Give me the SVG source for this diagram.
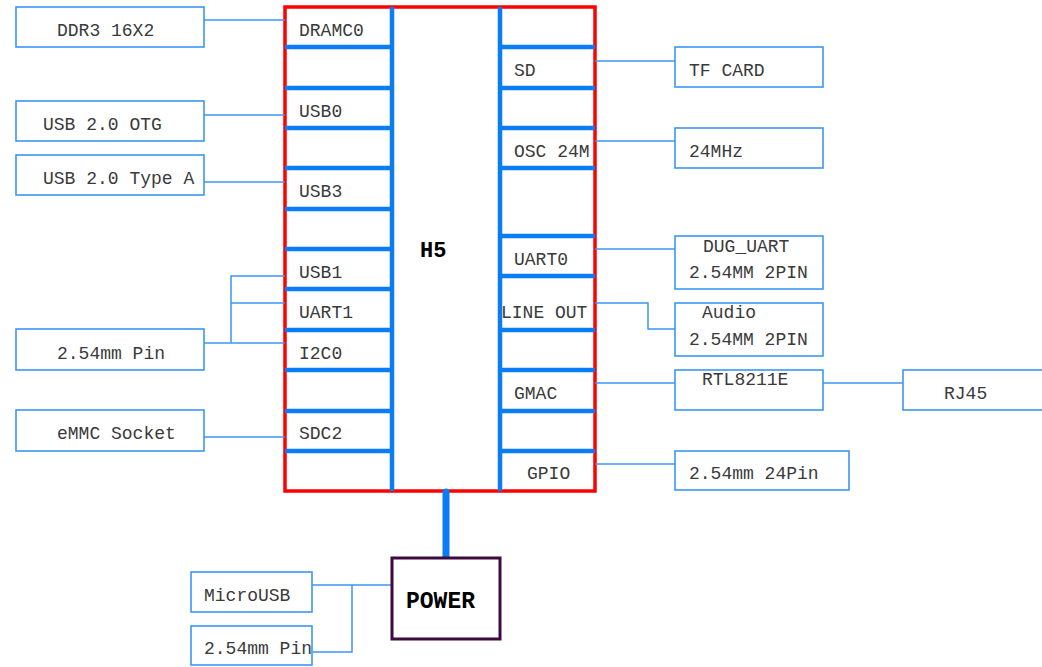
<svg xmlns="http://www.w3.org/2000/svg" width="1042" height="667" viewBox="0 0 1042 667">
<style>
.box{fill:#fff;stroke:#3b96f5;stroke-width:1.6}
.t{font-family:"Courier New","Nimbus Mono PS","FreeMono","Liberation Mono","DejaVu Sans Mono",monospace;font-size:18px;fill:#3a3a3a}
.b{font-family:"Courier New","Nimbus Mono PS","FreeMono","Liberation Mono","DejaVu Sans Mono",monospace;font-weight:bold;fill:#000}
.c{fill:none;stroke:#3b96f5;stroke-width:1.5}
.pin{stroke:#0a7df5;stroke-width:4.5}
</style>
<rect width="1042" height="667" fill="#fff"/>
<g id="chip">
<rect x="285" y="7" width="310" height="484" fill="#fff" stroke="#ff0000" stroke-width="3.5"/>
<g class="pin">
<line x1="392" y1="7" x2="392" y2="491"/>
<line x1="500" y1="7" x2="500" y2="491"/>
<line x1="285" y1="47" x2="392" y2="47"/>
<line x1="285" y1="88" x2="392" y2="88"/>
<line x1="285" y1="128" x2="392" y2="128"/>
<line x1="285" y1="168" x2="392" y2="168"/>
<line x1="285" y1="209" x2="392" y2="209"/>
<line x1="285" y1="249" x2="392" y2="249"/>
<line x1="285" y1="289" x2="392" y2="289"/>
<line x1="285" y1="330" x2="392" y2="330"/>
<line x1="285" y1="370" x2="392" y2="370"/>
<line x1="285" y1="411" x2="392" y2="411"/>
<line x1="285" y1="451" x2="392" y2="451"/>
<line x1="500" y1="47" x2="595" y2="47"/>
<line x1="500" y1="88" x2="595" y2="88"/>
<line x1="500" y1="128" x2="595" y2="128"/>
<line x1="500" y1="168" x2="595" y2="168"/>
<line x1="500" y1="236" x2="595" y2="236"/>
<line x1="500" y1="276" x2="595" y2="276"/>
<line x1="500" y1="330" x2="595" y2="330"/>
<line x1="500" y1="370" x2="595" y2="370"/>
<line x1="500" y1="411" x2="595" y2="411"/>
<line x1="500" y1="451" x2="595" y2="451"/>
</g>
<text class="b" x="420" y="257" font-size="22">H5</text>
<text class="t" x="299" y="36">DRAMC0</text>
<text class="t" x="299" y="117">USB0</text>
<text class="t" x="299" y="197">USB3</text>
<text class="t" x="299" y="278">USB1</text>
<text class="t" x="299" y="318">UART1</text>
<text class="t" x="299" y="359">I2C0</text>
<text class="t" x="299" y="439">SDC2</text>
<text class="t" x="514" y="76">SD</text>
<text class="t" x="514" y="157">OSC 24M</text>
<text class="t" x="514" y="265">UART0</text>
<text class="t" x="501" y="318">LINE OUT</text>
<text class="t" x="514" y="399">GMAC</text>
<text class="t" x="527" y="479">GPIO</text>
</g>
<g id="connectors">
<line class="c" x1="204" y1="20" x2="285" y2="20"/>
<line class="c" x1="204" y1="115" x2="285" y2="115"/>
<line class="c" x1="204" y1="182" x2="285" y2="182"/>
<polyline class="c" points="204,343 285,343"/>
<polyline class="c" points="285,276 231,276 231,343"/>
<line class="c" x1="231" y1="303" x2="285" y2="303"/>
<line class="c" x1="204" y1="437" x2="285" y2="437"/>
<line class="c" x1="595" y1="61" x2="675" y2="61"/>
<line class="c" x1="595" y1="141" x2="675" y2="141"/>
<line class="c" x1="595" y1="249" x2="675" y2="249"/>
<polyline class="c" points="595,303 648,303 648,329 675,329"/>
<line class="c" x1="595" y1="383" x2="675" y2="383"/>
<line class="c" x1="823" y1="383" x2="903" y2="383"/>
<line class="c" x1="595" y1="464" x2="675" y2="464"/>
<line class="c" x1="312" y1="585" x2="392" y2="585"/>
<polyline class="c" points="352,585 352,652 313,652"/>
<line x1="446" y1="492" x2="446" y2="557" stroke="#0a7df5" stroke-width="7" stroke-linecap="round"/>
</g>
<g id="ddr3"><rect class="box" x="16" y="7" width="188" height="40"/><text class="t" x="57" y="36">DDR3 16X2</text></g>
<g id="usb-otg"><rect class="box" x="16" y="101" width="188" height="40"/><text class="t" x="43" y="130">USB 2.0 OTG</text></g>
<g id="usb-typea"><rect class="box" x="16" y="155" width="188" height="40"/><text class="t" x="43" y="184">USB 2.0 Type A</text></g>
<g id="pin254"><rect class="box" x="16" y="329" width="188" height="41"/><text class="t" x="57" y="359">2.54mm Pin</text></g>
<g id="emmc"><rect class="box" x="16" y="410" width="188" height="41"/><text class="t" x="57" y="439">eMMC Socket</text></g>
<g id="tfcard"><rect class="box" x="675" y="47" width="148" height="40"/><text class="t" x="689" y="76">TF CARD</text></g>
<g id="mhz24"><rect class="box" x="675" y="128" width="148" height="40"/><text class="t" x="689" y="157">24MHz</text></g>
<g id="duguart"><rect class="box" x="675" y="236" width="148" height="53"/><text class="t" x="703" y="252">DUG_UART</text><text class="t" x="689" y="278">2.54MM 2PIN</text></g>
<g id="audio"><rect class="box" x="675" y="303" width="148" height="53"/><text class="t" x="702" y="318">Audio</text><text class="t" x="689" y="345">2.54MM 2PIN</text></g>
<g id="rtl"><rect class="box" x="675" y="370" width="148" height="40"/><text class="t" x="702" y="385">RTL8211E</text></g>
<g id="rj45"><rect class="box" x="903" y="370" width="142" height="40"/><text class="t" x="944" y="399">RJ45</text></g>
<g id="gpio24"><rect class="box" x="675" y="451" width="174" height="39"/><text class="t" x="689" y="479">2.54mm 24Pin</text></g>
<g id="power"><rect x="392" y="558" width="108" height="81" fill="#fff" stroke="#3d0b3f" stroke-width="3"/><text class="b" x="406" y="608" font-size="23">POWER</text></g>
<g id="microusb"><rect class="box" x="191" y="572" width="121" height="40"/><text class="t" x="204" y="601">MicroUSB</text></g>
<g id="pin254b"><rect class="box" x="191" y="626" width="121" height="39"/><text class="t" x="204" y="654">2.54mm Pin</text></g>
</svg>
